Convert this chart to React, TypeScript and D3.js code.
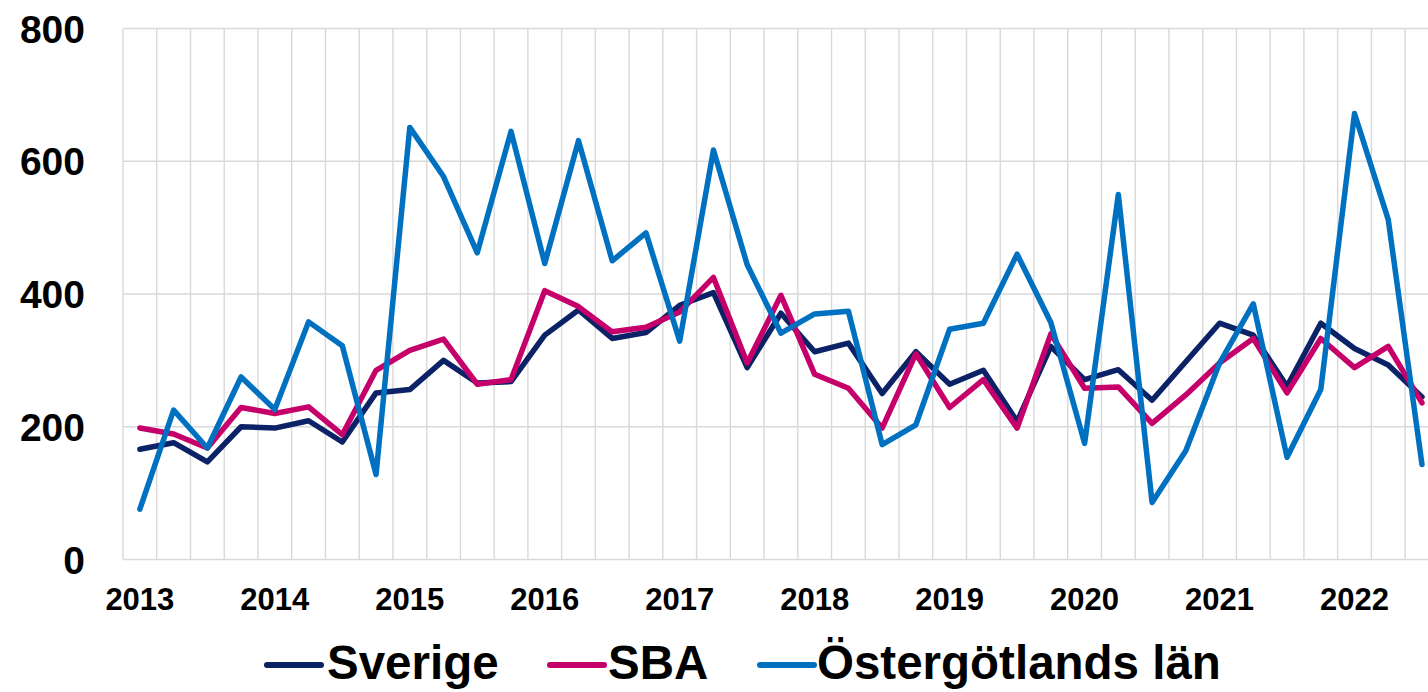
import React from "react";
import * as d3 from "d3";

const quarters = [
  "2013K1","2013K2","2013K3","2013K4",
  "2014K1","2014K2","2014K3","2014K4",
  "2015K1","2015K2","2015K3","2015K4",
  "2016K1","2016K2","2016K3","2016K4",
  "2017K1","2017K2","2017K3","2017K4",
  "2018K1","2018K2","2018K3","2018K4",
  "2019K1","2019K2","2019K3","2019K4",
  "2020K1","2020K2","2020K3","2020K4",
  "2021K1","2021K2","2021K3","2021K4",
  "2022K1","2022K2","2022K3",
];

const yearTicks = ["2013","2014","2015","2016","2017","2018","2019","2020","2021","2022"];
const yTicks = [0, 200, 400, 600, 800];

const sverige = [166,176,147,200,198,209,177,251,256,300,266,268,338,376,333,342,383,402,289,371,313,326,250,313,264,285,208,321,271,286,240,298,356,338,261,356,318,293,245];
const sba = [198,189,168,229,220,230,188,285,315,332,264,271,405,381,343,350,373,425,296,398,279,258,198,310,229,271,198,340,258,260,205,248,296,333,251,333,289,321,236];
const ostergotland = [76,225,168,275,226,358,322,128,651,577,462,645,446,631,450,492,329,617,444,341,370,374,173,203,347,356,460,357,175,550,86,164,296,385,154,256,672,512,143];

const seriesNames = ["Sverige", "SBA", "Östergötlands län"];
const seriesColors = ["#0c2266", "#c6006a", "#0070c0"];
const seriesData = [sverige, sba, ostergotland];

const W = 1428;
const H = 692;
const left = 123;
const top = 28.5;
const bottom = 559.5;
const band = 33.74;
const right = left + band * quarters.length;
const FONT = "'Liberation Sans', Arial, sans-serif";

export default function App() {
  const x = d3.scaleBand<string>().domain(quarters).range([left, right]).padding(0);
  const y = d3.scaleLinear().domain([0, 800]).range([bottom, top]);
  const cx = (q: string) => (x(q) as number) + x.bandwidth() / 2;

  const line = d3
    .line<number>()
    .x((_, i) => cx(quarters[i]))
    .y((d) => y(d));

  const boundaries = quarters.map((q) => x(q) as number).concat([right]);

  const legendItems = [
    { lx: 267, tx: 327 },
    { lx: 550, tx: 608 },
    { lx: 760, tx: 817 },
  ];

  return (
    <svg
      width={W}
      height={H}
      style={{ position: "absolute", left: 0, top: 0, background: "#fff" }}
      fontFamily={FONT}
    >
      <g>
        {boundaries.map((bx, i) => (
          <line key={"v" + i} x1={bx} x2={bx} y1={top} y2={bottom} stroke="#d9d9d9" strokeWidth={1.4} />
        ))}
        {yTicks.map((t) => (
          <line key={"h" + t} x1={left} x2={right} y1={y(t)} y2={y(t)} stroke="#d9d9d9" strokeWidth={1.4} />
        ))}
      </g>
      <g>
        {yTicks.map((t) => (
          <text
            key={"yl" + t}
            x={85}
            y={y(t)}
            dy="0.36em"
            textAnchor="end"
            fontSize={39}
            fontWeight="bold"
            fill="#000"
          >
            {t}
          </text>
        ))}
      </g>
      <g>
        {yearTicks.map((yr) => (
          <text
            key={"xl" + yr}
            x={cx(yr + "K1")}
            y={610}
            textAnchor="middle"
            fontSize={31}
            fontWeight="bold"
            fill="#000"
          >
            {yr}
          </text>
        ))}
      </g>
      <g>
        {seriesData.map((s, i) => (
          <path
            key={"s" + i}
            d={line(s) || ""}
            fill="none"
            stroke={seriesColors[i]}
            strokeWidth={5.5}
            strokeLinejoin="round"
            strokeLinecap="round"
          />
        ))}
      </g>
      <g>
        {seriesNames.map((n, i) => (
          <g key={"lg" + i}>
            <line
              x1={legendItems[i].lx}
              x2={legendItems[i].lx + 54}
              y1={665}
              y2={665}
              stroke={seriesColors[i]}
              strokeWidth={6}
              strokeLinecap="round"
            />
            <text
              x={legendItems[i].tx}
              y={679}
              fontSize={47.5}
              fontWeight="bold"
              fill="#000"
            >
              {n}
            </text>
          </g>
        ))}
      </g>
    </svg>
  );
}
